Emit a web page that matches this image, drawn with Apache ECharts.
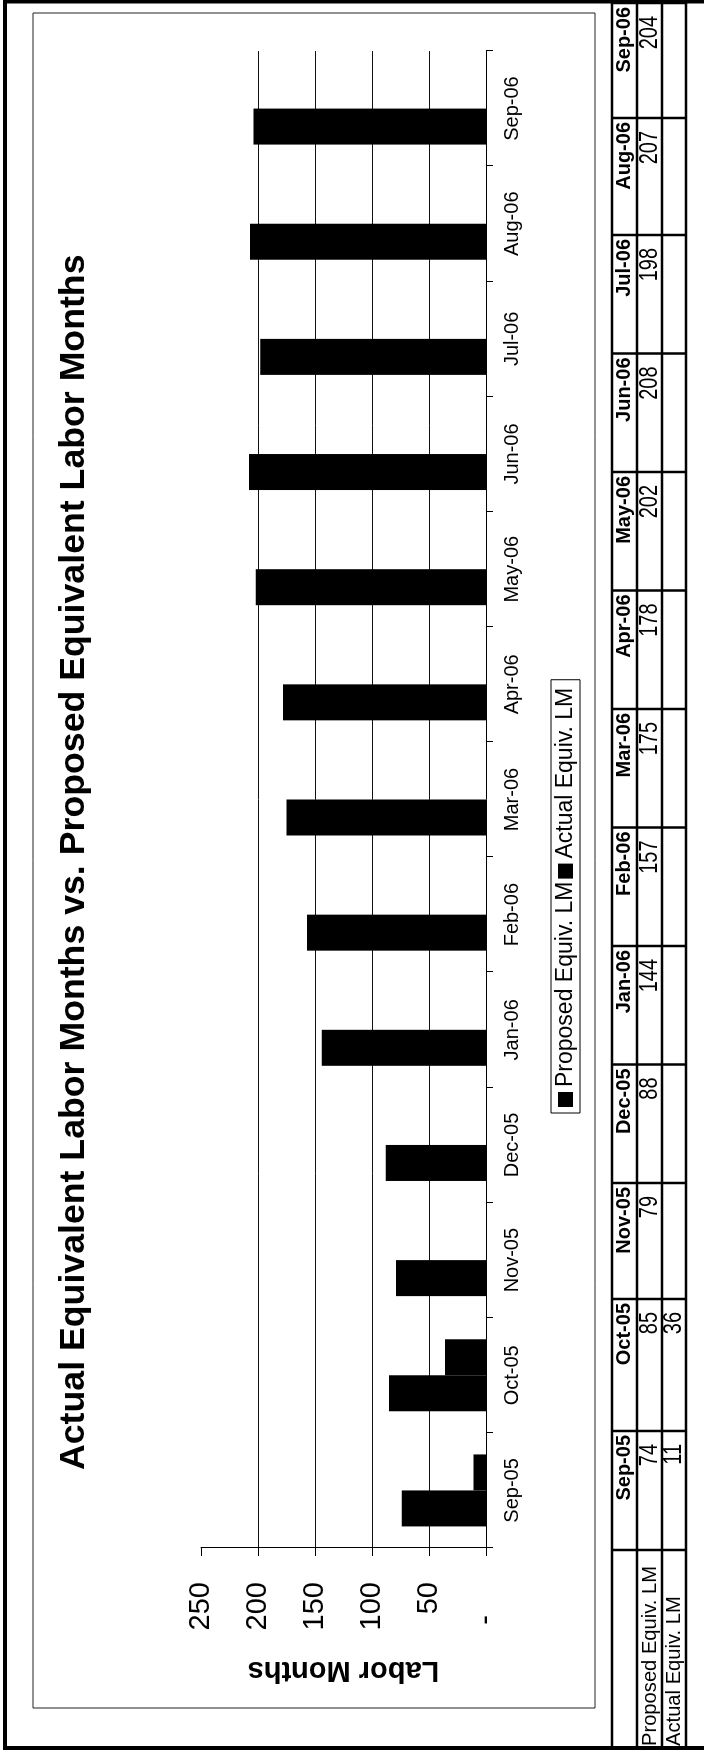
<!DOCTYPE html>
<html>
<head>
<meta charset="utf-8">
<script src="https://cdn.jsdelivr.net/npm/echarts@6/dist/echarts.min.js"></script>
<style>
  html, body { margin: 0; padding: 0; background: #fff; overflow: hidden; }
  #page { width: 704px; height: 1750px; position: relative; overflow: hidden; }
  /* the chart is drawn landscape and turned a quarter turn, like the scanned page */
  #chart { width: 1750px; height: 704px; position: absolute; left: 0; top: 0;
    transform-origin: 0 0; transform: translateY(1750px) rotate(-90deg); }
</style>
</head>
<body>
<div id="page"><div id="chart"></div></div>
<script>
const categories = ['Sep-05', 'Oct-05', 'Nov-05', 'Dec-05', 'Jan-06', 'Feb-06', 'Mar-06',
  'Apr-06', 'May-06', 'Jun-06', 'Jul-06', 'Aug-06', 'Sep-06'];
const proposedLM = [74, 85, 79, 88, 144, 157, 175, 178, 202, 208, 198, 207, 204];
const actualLM = [11, 36, null, null, null, null, null, null, null, null, null, null, null];
const seriesNames = ['Proposed Equiv. LM', 'Actual Equiv. LM'];
const valueMax = 250;
const valueStep = 50;

const FONT = "'Liberation Sans', Arial, Helvetica, sans-serif";

// data table under the chart (column / row edges in px)
const colEdges = [2, 200, 319, 451, 567, 685.5, 804, 922.5, 1041, 1159.5, 1278, 1396.5, 1515, 1632, 1747];
const rowEdges = [612, 637, 662, 686];

const graphics = [];

// outer frame + chart area frame
graphics.push({
  type: 'rect', shape: { x: 2, y: 5, width: 1746.5, height: 800 },
  style: { fill: 'none', stroke: '#000', lineWidth: 4 }
});
graphics.push({
  type: 'rect', shape: { x: 42, y: 33, width: 1695, height: 562 },
  style: { fill: 'none', stroke: '#222', lineWidth: 1 }
});

rowEdges.forEach(y => {
  graphics.push({
    type: 'line', shape: { x1: colEdges[0], y1: y, x2: colEdges[colEdges.length - 1], y2: y },
    style: { stroke: '#000', lineWidth: 2.5 }
  });
});
colEdges.forEach(x => {
  graphics.push({
    type: 'line', shape: { x1: x, y1: rowEdges[0], x2: x, y2: rowEdges[rowEdges.length - 1] },
    style: { stroke: '#000', lineWidth: 2.5 }
  });
});

function cellText(text, x, y, font, align, scaleX) {
  return {
    type: 'text', x: x, y: y, scaleX: scaleX || 1,
    style: {
      text: String(text), fill: '#000', font: font,
      align: align, textAlign: align, verticalAlign: 'middle', textVerticalAlign: 'middle'
    }
  };
}

const rowMid = [624, 650, 674];
graphics.push(cellText(seriesNames[0], 4, rowMid[1], '21px ' + FONT, 'left', 0.96));
graphics.push(cellText(seriesNames[1], 4, rowMid[2], '21px ' + FONT, 'left', 0.96));
categories.forEach((c, i) => {
  const right = colEdges[i + 2];
  graphics.push(cellText(c, right - 4, rowMid[0], 'bold 20px ' + FONT, 'right'));
  if (proposedLM[i] != null) {
    graphics.push(cellText(proposedLM[i], right - 13, rowMid[1], '25px ' + FONT, 'right', 0.8));
  }
  if (actualLM[i] != null) {
    graphics.push(cellText(actualLM[i], right - 13, rowMid[2], '25px ' + FONT, 'right', 0.8));
  }
});

const myChart = echarts.init(document.getElementById('chart'));
myChart.setOption({
  animation: false,
  backgroundColor: '#fff',
  title: {
    text: 'Actual Equivalent Labor Months vs. Proposed Equivalent Labor Months',
    left: 280,
    top: 56,
    padding: 0,
    textStyle: { fontSize: 35.7, fontWeight: 'bold', color: '#000', fontFamily: FONT }
  },
  legend: {
    data: seriesNames,
    left: 637,
    top: 551,
    icon: 'rect',
    itemWidth: 15,
    itemHeight: 15,
    itemGap: 3,
    padding: [3, 8, 3, 6],
    borderColor: '#000',
    borderWidth: 1,
    textStyle: { fontSize: 23, color: '#000', fontFamily: FONT }
  },
  grid: { left: 202, right: 51, top: 201, bottom: 218, containLabel: false, outerBoundsMode: 'none' },
  xAxis: {
    type: 'category',
    data: categories,
    axisLine: { lineStyle: { color: '#000', width: 1 } },
    axisTick: { show: true, length: 7, lineStyle: { color: '#000' } },
    axisLabel: { interval: 0, fontSize: 20, color: '#000', margin: 16, fontFamily: FONT },
    splitLine: { show: false }
  },
  yAxis: {
    type: 'value',
    min: 0,
    max: valueMax,
    interval: valueStep,
    name: 'Labor Months',
    nameLocation: 'middle',
    nameGap: 108,
    nameTextStyle: { fontSize: 29, fontWeight: 'bold', color: '#000', fontFamily: FONT },
    axisLine: { show: true, lineStyle: { color: '#000', width: 1 } },
    axisTick: { show: true, length: 8, lineStyle: { color: '#000' } },
    axisLabel: {
      fontSize: 29, color: '#000', margin: 34, fontFamily: FONT,
      formatter: v => (v === 0 ? '{z|-}' : String(v)),
      rich: { z: { fontSize: 29, fontFamily: FONT, color: '#000', padding: [0, 33, 0, 0] } }
    },
    splitLine: { show: true, showMinLine: false, showMaxLine: false, lineStyle: { color: '#111', width: 1 } }
  },
  series: [{
    name: seriesNames[0],
    type: 'bar',
    data: proposedLM,
    barWidth: 36,
    barGap: '0%',
    itemStyle: { color: '#000' }
  }, {
    name: seriesNames[1],
    type: 'bar',
    data: actualLM,
    barWidth: 36,
    barGap: '0%',
    itemStyle: { color: '#000' }
  }],
  graphic: graphics
});
</script>
</body>
</html>
